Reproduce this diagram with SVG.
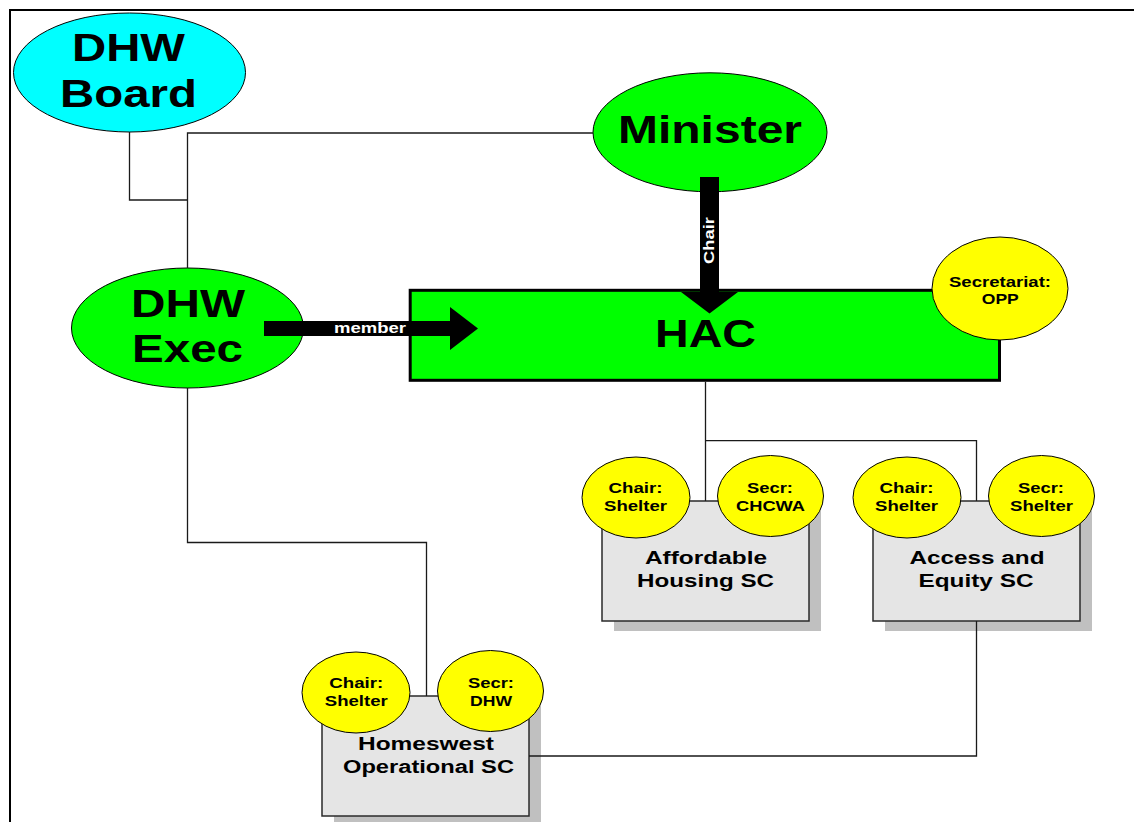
<svg xmlns="http://www.w3.org/2000/svg" width="1134" height="822" viewBox="0 0 1134 822">
<style>
text{font-family:"Liberation Sans",Arial,sans-serif;font-weight:bold;text-anchor:middle;fill:#000}
.big{font-size:39px}
.sm{font-size:15px}
.box{font-size:18px}
.wt{fill:#fff;font-size:15px}
.el{stroke:#000;stroke-width:1}
.cyan{fill:#00ffff}
.green{fill:#00ff00}
.yel{fill:#ffff00}
.sc{fill:#e5e5e5;stroke:#2a2a2a;stroke-width:1.5}
.sh{fill:#c0c0c0}
.ln{fill:none;stroke:#1a1a1a;stroke-width:1.3}
.arr{fill:#000}
</style>
<rect width="1134" height="822" fill="#fff"/>
<rect x="10" y="10" width="1300" height="1000" fill="none" stroke="#000" stroke-width="2"/>

<g id="dhw-board">
<ellipse class="el cyan" cx="129.5" cy="72.5" rx="116" ry="59.5"/>
<text class="big" x="128.5" y="61" textLength="113" lengthAdjust="spacingAndGlyphs">DHW</text>
<text class="big" x="128.5" y="107" textLength="137" lengthAdjust="spacingAndGlyphs">Board</text>
</g>

<g id="minister">
<ellipse class="el green" cx="710" cy="132.3" rx="117" ry="59.5"/>
<text class="big" x="710" y="143.3" textLength="184" lengthAdjust="spacingAndGlyphs">Minister</text>
</g>

<g id="dhw-exec">
<ellipse class="el green" cx="187.5" cy="328" rx="116" ry="60"/>
<text class="big" x="188" y="316.7" textLength="114" lengthAdjust="spacingAndGlyphs">DHW</text>
<text class="big" x="187.5" y="361.7" textLength="111" lengthAdjust="spacingAndGlyphs">Exec</text>
</g>

<g id="hac">
<rect x="410.2" y="290.3" width="589.3" height="90" fill="#00ff00" stroke="#000" stroke-width="3"/>
<text x="705.5" y="346.7" font-size="38" textLength="101" lengthAdjust="spacingAndGlyphs">HAC</text>
</g>

<g id="secretariat">
<ellipse class="el yel" cx="1000" cy="288.5" rx="68" ry="51.5"/>
<text class="sm" x="1000" y="287" textLength="102" lengthAdjust="spacingAndGlyphs">Secretariat:</text>
<text class="sm" x="1000.3" y="304" textLength="37" lengthAdjust="spacingAndGlyphs">OPP</text>
</g>

<g id="affordable-housing-sc">
<rect class="sh" x="614" y="511" width="207" height="120"/>
<rect class="sc" x="602" y="501" width="207" height="120"/>
<text class="box" x="706" y="564" textLength="122" lengthAdjust="spacingAndGlyphs">Affordable</text>
<text class="box" x="705.5" y="586.7" textLength="137" lengthAdjust="spacingAndGlyphs">Housing SC</text>
<ellipse class="el yel" cx="636" cy="497.5" rx="54" ry="40.5"/>
<text class="sm" x="635.5" y="493" textLength="54" lengthAdjust="spacingAndGlyphs">Chair:</text>
<text class="sm" x="635.5" y="511" textLength="63" lengthAdjust="spacingAndGlyphs">Shelter</text>
<ellipse class="el yel" cx="770.5" cy="496" rx="53" ry="40.5"/>
<text class="sm" x="770" y="493" textLength="46" lengthAdjust="spacingAndGlyphs">Secr:</text>
<text class="sm" x="770.5" y="511" textLength="69" lengthAdjust="spacingAndGlyphs">CHCWA</text>
</g>

<g id="access-equity-sc">
<rect class="sh" x="885" y="511" width="207" height="120"/>
<rect class="sc" x="873" y="501" width="207" height="120"/>
<text class="box" x="977" y="564" textLength="135" lengthAdjust="spacingAndGlyphs">Access and</text>
<text class="box" x="976" y="586.7" textLength="115" lengthAdjust="spacingAndGlyphs">Equity SC</text>
<ellipse class="el yel" cx="907" cy="497.5" rx="54" ry="40.5"/>
<text class="sm" x="906.5" y="493" textLength="54" lengthAdjust="spacingAndGlyphs">Chair:</text>
<text class="sm" x="906.5" y="511" textLength="63" lengthAdjust="spacingAndGlyphs">Shelter</text>
<ellipse class="el yel" cx="1041.5" cy="496" rx="53" ry="40.5"/>
<text class="sm" x="1041" y="493" textLength="46" lengthAdjust="spacingAndGlyphs">Secr:</text>
<text class="sm" x="1041.5" y="511" textLength="63" lengthAdjust="spacingAndGlyphs">Shelter</text>
</g>

<g id="homeswest-operational-sc">
<rect class="sh" x="334" y="706" width="207" height="120"/>
<rect class="sc" x="322" y="696" width="207" height="120"/>
<text class="box" x="426" y="750" textLength="136" lengthAdjust="spacingAndGlyphs">Homeswest</text>
<text class="box" x="428.5" y="772.7" textLength="171" lengthAdjust="spacingAndGlyphs">Operational SC</text>
<ellipse class="el yel" cx="356" cy="692.5" rx="54" ry="40.5"/>
<text class="sm" x="356.3" y="688" textLength="54" lengthAdjust="spacingAndGlyphs">Chair:</text>
<text class="sm" x="356.3" y="705.5" textLength="63" lengthAdjust="spacingAndGlyphs">Shelter</text>
<ellipse class="el yel" cx="490.5" cy="691" rx="53" ry="40.5"/>
<text class="sm" x="491" y="688" textLength="46" lengthAdjust="spacingAndGlyphs">Secr:</text>
<text class="sm" x="491" y="705.5" textLength="42" lengthAdjust="spacingAndGlyphs">DHW</text>
</g>

<g id="connectors">
<polyline class="ln" points="129.5,132 129.5,200 187.5,200"/>
<polyline class="ln" points="593,133 187.5,133 187.5,268"/>
<polyline class="ln" points="187.5,388 187.5,542.5 426.5,542.5 426.5,696"/>
<polyline class="ln" points="705.5,381.8 705.5,501"/>
<polyline class="ln" points="705.5,440.7 976.5,440.7 976.5,501"/>
<polyline class="ln" points="976.5,621 976.5,756 529,756"/>
<g id="member-arrow">
<polygon class="arr" points="264,321 450,321 450,307 478,328.5 450,350 450,336 264,336"/>
<text class="wt" x="370" y="333" textLength="72" lengthAdjust="spacingAndGlyphs">member</text>
</g>
<g id="chair-arrow">
<polygon class="arr" points="700,177 719,177 719,292 738,292 709.5,313.5 681,292 700,292"/>
<text class="wt" transform="translate(714 240.5) rotate(-90)" x="0" y="0" textLength="47" lengthAdjust="spacingAndGlyphs">Chair</text>
</g>
</g>
</svg>
